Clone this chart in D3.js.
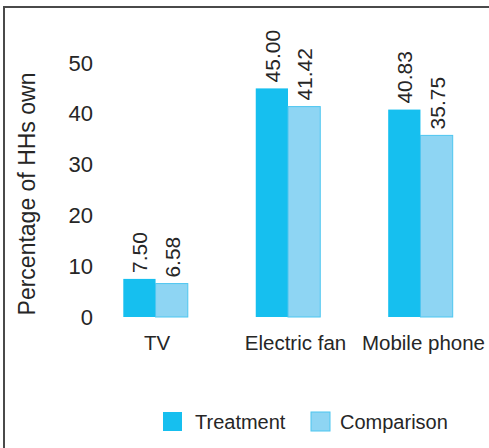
<!DOCTYPE html>
<html>
<head>
<meta charset="utf-8">
<script src="https://cdn.jsdelivr.net/npm/d3@7"></script>
<style>
  html, body { margin: 0; padding: 0; background: #fff; }
  svg { display: block; font-family: "Liberation Sans", Arial, Helvetica, sans-serif; }
</style>
</head>
<body>
<svg id="chart" width="489" height="448"></svg>
<script>
const categories = ["TV", "Electric fan", "Mobile phone"];
const seriesNames = ["Treatment", "Comparison"];
const treatment = [7.50, 45.00, 40.83];
const comparison = [6.58, 41.42, 35.75];
const yTicks = [0, 10, 20, 30, 40, 50];
const yTitle = "Percentage of HHs own";

const colors = { Treatment: "#16BFEF", Comparison: "#8ED5F3" };
const strokes = { Treatment: "none", Comparison: "#4DC6F0" };
const textColor = "#262626";

const svg = d3.select("#chart");

// frame (top and left)
svg.append("line").attr("x1", 4).attr("x2", 489).attr("y1", 7).attr("y2", 7)
  .attr("stroke", "#4a4a4a").attr("stroke-width", 2);
svg.append("line").attr("x1", 4).attr("x2", 4).attr("y1", 6).attr("y2", 448)
  .attr("stroke", "#4a4a4a").attr("stroke-width", 2);

const y = d3.scaleLinear().domain([0, 50]).range([317, 63]);
const x0 = d3.scaleBand().domain(categories).range([123.3, 452.7])
  .paddingInner(0.513).paddingOuter(0);
const x1 = d3.scaleBand().domain(seriesNames).range([0, x0.bandwidth()]);

const rows = categories.map((c, i) => ({ cat: c, values: [
  { key: "Treatment", value: treatment[i] },
  { key: "Comparison", value: comparison[i] }
]}));

// y axis (labels only)
const yAxis = d3.axisLeft(y).tickValues(yTicks).tickSize(0).tickPadding(0).tickFormat(d3.format("d"));
const gy = svg.append("g").attr("transform", "translate(93,0)").call(yAxis);
gy.select(".domain").remove();
gy.selectAll("text").attr("font-size", 22).attr("fill", textColor)
  .attr("font-family", "Liberation Sans, Arial, sans-serif");

// y title
svg.append("text")
  .attr("transform", `translate(35,${(y(0) + y(50)) / 2 + 4}) rotate(-90)`)
  .attr("text-anchor", "middle")
  .attr("font-size", 23)
  .attr("fill", textColor)
  .text(yTitle);

// bars
const groups = svg.append("g").selectAll("g").data(rows).join("g")
  .attr("transform", d => `translate(${x0(d.cat)},0)`);

groups.selectAll("rect").data(d => d.values).join("rect")
  .attr("x", d => x1(d.key))
  .attr("y", d => y(d.value))
  .attr("width", x1.bandwidth())
  .attr("height", d => y(0) - y(d.value))
  .attr("fill", d => colors[d.key])
  .attr("stroke", d => strokes[d.key])
  .attr("stroke-width", 1);

// value labels
groups.selectAll("text.val").data(d => d.values).join("text")
  .attr("class", "val")
  .attr("transform", d => `translate(${x1(d.key) + x1.bandwidth() / 2 + 8},${y(d.value) - 6}) rotate(-90)`)
  .attr("text-anchor", "start")
  .attr("font-size", 21)
  .attr("fill", textColor)
  .text(d => d.value.toFixed(2));

// x labels
const labelShift = { "TV": 1.5, "Electric fan": 7.5, "Mobile phone": 3 };
const xAxis = d3.axisBottom(x0).tickSize(0).tickPadding(0);
const gx = svg.append("g").attr("transform", `translate(0,${y(0)})`).call(xAxis);
gx.select(".domain").remove();
gx.selectAll("text").attr("font-size", 20.5).attr("fill", textColor)
  .attr("font-family", "Liberation Sans, Arial, sans-serif")
  .attr("dy", null).attr("y", 33)
  .attr("x", d => labelShift[d]);

// legend
const legend = svg.append("g").selectAll("g").data(seriesNames).join("g")
  .attr("transform", (d, i) => `translate(${[163, 311][i]},412)`);
legend.append("rect").attr("width", 19).attr("height", 19)
  .attr("fill", d => colors[d]).attr("stroke", d => strokes[d]);
legend.append("text").attr("x", d => d === "Treatment" ? 32 : 29).attr("y", 17)
  .attr("font-size", 20).attr("fill", textColor).text(d => d);
</script>
</body>
</html>
